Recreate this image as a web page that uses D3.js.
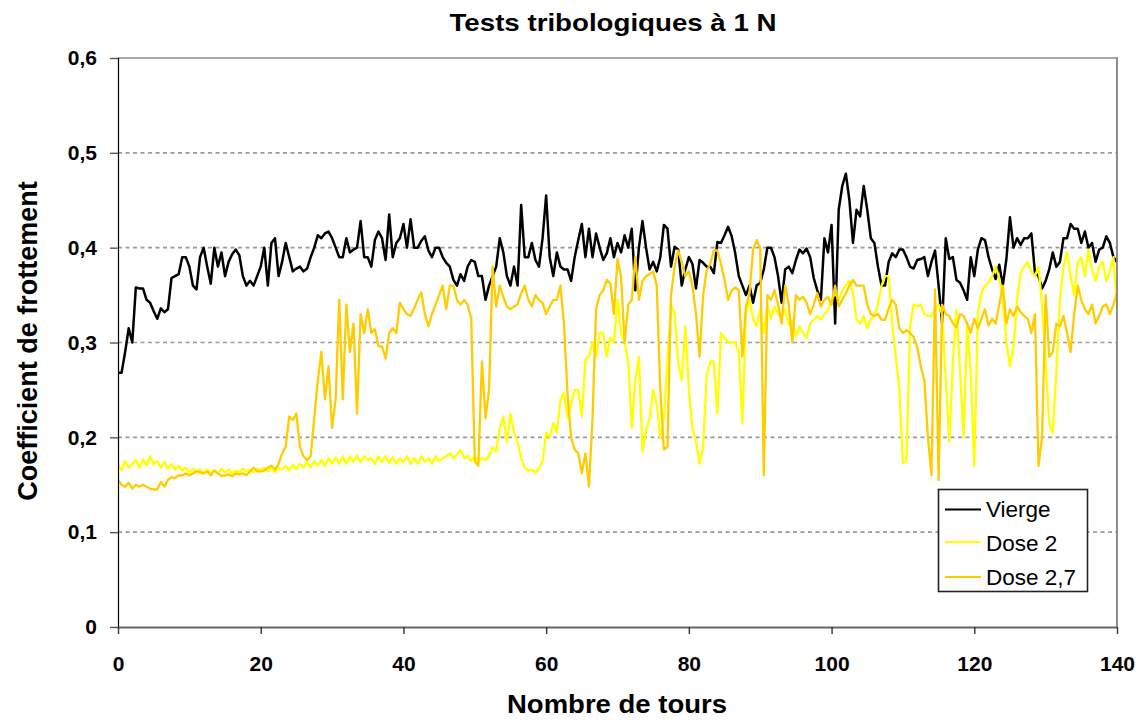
<!DOCTYPE html>
<html>
<head>
<meta charset="utf-8">
<script src="https://cdn.jsdelivr.net/npm/d3@7"></script>
<style>
  html, body { margin: 0; padding: 0; background: #fff; }
  svg { display: block; font-family: "Liberation Sans", Arial, sans-serif; }
</style>
</head>
<body>
<svg id="chart" width="1144" height="720"></svg>
<script>
// Friction coefficient sampled every half turn, from 0 to 140 turns
const tourStep = 0.5;

const vierge = [
  0.268, 0.268, 0.29, 0.315, 0.30, 0.358, 0.357, 0.357, 0.345, 0.342,
  0.333, 0.325, 0.336, 0.332, 0.335, 0.368, 0.37, 0.372, 0.39, 0.39,
  0.38, 0.36, 0.356, 0.39, 0.40, 0.38, 0.362, 0.40, 0.38, 0.395,
  0.37, 0.385, 0.393, 0.398, 0.392, 0.37, 0.36, 0.365, 0.36, 0.37,
  0.38, 0.40, 0.36, 0.405, 0.41, 0.37, 0.385, 0.405, 0.39, 0.375,
  0.378, 0.38, 0.375, 0.378, 0.39, 0.40, 0.413, 0.41, 0.415, 0.417,
  0.41, 0.40, 0.39, 0.39, 0.41, 0.395, 0.398, 0.40, 0.428, 0.39,
  0.39, 0.38, 0.408, 0.417, 0.41, 0.387, 0.435, 0.39, 0.405, 0.41,
  0.425, 0.40, 0.43, 0.40, 0.40, 0.407, 0.412, 0.397, 0.39, 0.40,
  0.40, 0.39, 0.384, 0.38, 0.366, 0.36, 0.372, 0.365, 0.38, 0.387,
  0.385, 0.37, 0.37, 0.345, 0.36, 0.37, 0.38, 0.41, 0.395, 0.37,
  0.36, 0.38, 0.36, 0.445, 0.39, 0.39, 0.405, 0.387, 0.38, 0.41,
  0.455, 0.39, 0.37, 0.395, 0.38, 0.377, 0.377, 0.365, 0.39, 0.408,
  0.425, 0.39, 0.42, 0.39, 0.415, 0.40, 0.387, 0.394, 0.41, 0.39,
  0.405, 0.395, 0.413, 0.40, 0.42, 0.355, 0.40, 0.428, 0.40, 0.377,
  0.385, 0.375, 0.39, 0.424, 0.42, 0.38, 0.401, 0.398, 0.36, 0.377,
  0.39, 0.383, 0.357, 0.387, 0.384, 0.38, 0.38, 0.373, 0.406, 0.405,
  0.413, 0.422, 0.412, 0.394, 0.37, 0.36, 0.35, 0.36, 0.342, 0.36,
  0.363, 0.377, 0.40, 0.40, 0.39, 0.37, 0.342, 0.377, 0.38, 0.373,
  0.387, 0.398, 0.394, 0.399, 0.39, 0.368, 0.355, 0.345, 0.41, 0.395,
  0.424, 0.32, 0.44, 0.465, 0.478, 0.45, 0.405, 0.44, 0.433, 0.465,
  0.44, 0.41, 0.405, 0.38, 0.36, 0.36, 0.385, 0.394, 0.39, 0.398,
  0.398, 0.39, 0.38, 0.378, 0.387, 0.388, 0.39, 0.37, 0.385, 0.397,
  0.36, 0.32, 0.41, 0.388, 0.39, 0.366, 0.363, 0.355, 0.345, 0.39,
  0.37, 0.398, 0.41, 0.408, 0.39, 0.377, 0.367, 0.382, 0.36, 0.388,
  0.432, 0.40, 0.41, 0.403, 0.41, 0.41, 0.415, 0.374, 0.37, 0.357,
  0.365, 0.377, 0.395, 0.38, 0.385, 0.41, 0.41, 0.425, 0.42, 0.42,
  0.405, 0.417, 0.40, 0.405, 0.385, 0.398, 0.40, 0.412, 0.405, 0.39,
  0.385
];

const dose2 = [
  0.172, 0.165, 0.175, 0.168, 0.172, 0.176, 0.168, 0.177, 0.17, 0.18,
  0.172, 0.175, 0.168, 0.174, 0.167, 0.172, 0.166, 0.17, 0.165, 0.168,
  0.163, 0.167, 0.164, 0.166, 0.162, 0.166, 0.163, 0.165, 0.162, 0.167,
  0.163, 0.166, 0.162, 0.165, 0.163, 0.167, 0.164, 0.166, 0.163, 0.167,
  0.165, 0.168, 0.164, 0.169, 0.163, 0.168, 0.166, 0.17, 0.165, 0.171,
  0.167, 0.172, 0.168, 0.174, 0.168, 0.175, 0.17, 0.176, 0.17, 0.178,
  0.172, 0.179, 0.172, 0.18, 0.172, 0.18, 0.174, 0.181, 0.174, 0.18,
  0.176, 0.178, 0.172, 0.18, 0.174, 0.18, 0.173, 0.179, 0.172, 0.178,
  0.174, 0.18, 0.172, 0.178, 0.172, 0.18, 0.174, 0.178, 0.172, 0.18,
  0.175, 0.178, 0.18, 0.183, 0.178, 0.182, 0.187, 0.178, 0.18, 0.175,
  0.18, 0.174, 0.178, 0.176, 0.18, 0.19, 0.185, 0.21, 0.222, 0.195,
  0.225, 0.205, 0.195, 0.178, 0.168, 0.165, 0.166, 0.163, 0.167, 0.175,
  0.205, 0.2, 0.215, 0.205, 0.24, 0.247, 0.22, 0.236, 0.25, 0.25,
  0.222, 0.282, 0.285, 0.30, 0.285, 0.31, 0.31, 0.285, 0.305, 0.30,
  0.345, 0.31, 0.30, 0.28, 0.21, 0.26, 0.285, 0.185, 0.207, 0.22,
  0.25, 0.235, 0.2, 0.22, 0.28, 0.34, 0.33, 0.28, 0.26, 0.317,
  0.25, 0.21, 0.196, 0.172, 0.19, 0.265, 0.28, 0.28, 0.225, 0.31,
  0.305, 0.30, 0.30, 0.30, 0.29, 0.215, 0.33, 0.345, 0.325, 0.317,
  0.335, 0.31, 0.34, 0.325, 0.338, 0.33, 0.327, 0.335, 0.318, 0.324,
  0.306, 0.317, 0.31, 0.305, 0.32, 0.324, 0.328, 0.324, 0.33, 0.334,
  0.345, 0.352, 0.345, 0.355, 0.36, 0.365, 0.352, 0.324, 0.32, 0.328,
  0.315, 0.325, 0.328, 0.34, 0.36, 0.37, 0.37, 0.32, 0.285, 0.25,
  0.173, 0.175, 0.317, 0.34, 0.338, 0.34, 0.33, 0.328, 0.328, 0.335,
  0.34, 0.33, 0.26, 0.195, 0.28, 0.335, 0.27, 0.2, 0.32, 0.27,
  0.17, 0.33, 0.352, 0.36, 0.363, 0.37, 0.38, 0.368, 0.345, 0.30,
  0.275, 0.296, 0.345, 0.374, 0.38, 0.385, 0.375, 0.37, 0.38, 0.34,
  0.28, 0.215, 0.205, 0.27, 0.345, 0.38, 0.395, 0.37, 0.35, 0.385,
  0.39, 0.37, 0.398, 0.377, 0.365, 0.38, 0.385, 0.365, 0.375, 0.39,
  0.34
];

const dose27 = [
  0.155, 0.15, 0.148, 0.152, 0.146, 0.15, 0.148, 0.15, 0.148, 0.146,
  0.145, 0.145, 0.153, 0.148, 0.155, 0.158, 0.157, 0.16, 0.16, 0.162,
  0.16, 0.162, 0.164, 0.163, 0.162, 0.164, 0.16, 0.165, 0.162, 0.159,
  0.16, 0.161, 0.159, 0.162, 0.161, 0.162, 0.16, 0.164, 0.168, 0.164,
  0.164, 0.165, 0.168, 0.17, 0.166, 0.172, 0.183, 0.19, 0.222, 0.218,
  0.225, 0.19, 0.18, 0.176, 0.18, 0.22, 0.26, 0.29, 0.24, 0.275,
  0.21, 0.24, 0.345, 0.24, 0.34, 0.29, 0.32, 0.225, 0.33, 0.31,
  0.335, 0.31, 0.314, 0.296, 0.296, 0.283, 0.31, 0.315, 0.31, 0.342,
  0.335, 0.33, 0.328, 0.336, 0.345, 0.353, 0.33, 0.317, 0.33, 0.34,
  0.35, 0.36, 0.335, 0.36, 0.36, 0.345, 0.34, 0.345, 0.34, 0.325,
  0.175, 0.17, 0.28, 0.22, 0.25, 0.38, 0.338, 0.36, 0.348, 0.338,
  0.335, 0.338, 0.34, 0.352, 0.36, 0.345, 0.338, 0.35, 0.345, 0.342,
  0.33, 0.338, 0.345, 0.345, 0.36, 0.32, 0.245, 0.2, 0.187, 0.183,
  0.162, 0.183, 0.148, 0.22, 0.335, 0.35, 0.355, 0.366, 0.362, 0.33,
  0.388, 0.37, 0.30, 0.34, 0.345, 0.39, 0.345, 0.365, 0.37, 0.372,
  0.375, 0.36, 0.25, 0.187, 0.19, 0.35, 0.38, 0.397, 0.385, 0.37,
  0.375, 0.36, 0.33, 0.285, 0.35, 0.376, 0.383, 0.397, 0.397, 0.383,
  0.366, 0.345, 0.355, 0.358, 0.355, 0.285, 0.338, 0.352, 0.398, 0.408,
  0.40, 0.16, 0.35, 0.345, 0.355, 0.34, 0.32, 0.36, 0.34, 0.30,
  0.35, 0.345, 0.348, 0.342, 0.33, 0.34, 0.352, 0.338, 0.345, 0.348,
  0.34, 0.36, 0.338, 0.345, 0.352, 0.36, 0.366, 0.36, 0.36, 0.36,
  0.34, 0.33, 0.328, 0.33, 0.324, 0.324, 0.336, 0.345, 0.34, 0.315,
  0.31, 0.313, 0.31, 0.306, 0.295, 0.275, 0.26, 0.2, 0.16, 0.356,
  0.155, 0.34, 0.33, 0.328, 0.32, 0.316, 0.33, 0.328, 0.32, 0.31,
  0.325, 0.315, 0.325, 0.335, 0.318, 0.325, 0.32, 0.34, 0.36, 0.32,
  0.335, 0.328, 0.338, 0.332, 0.328, 0.325, 0.31, 0.33, 0.17, 0.2,
  0.35, 0.285, 0.29, 0.32, 0.317, 0.328, 0.31, 0.29, 0.33, 0.36,
  0.345, 0.335, 0.33, 0.34, 0.32, 0.328, 0.338, 0.34, 0.33, 0.34,
  0.352
];

const seriesNames = ["Vierge", "Dose 2", "Dose 2,7"];
const seriesColors = ["#000000", "#FFFF00", "#FFCC00"];
const xTicks = [0, 20, 40, 60, 80, 100, 120, 140];
const yTicks = [0, 0.1, 0.2, 0.3, 0.4, 0.5, 0.6];
const yTickLabels = ["0", "0,1", "0,2", "0,3", "0,4", "0,5", "0,6"];

const chartTitle = "Tests tribologiques à 1 N";
const xTitle = "Nombre de tours";
const yTitle = "Coefficient de frottement";

// Layout
const plot = { left: 118, top: 58, right: 1117, bottom: 627 };

const svg = d3.select("#chart");

const x = d3.scaleLinear().domain([0, 140]).range([plot.left, plot.right]);
const y = d3.scaleLinear().domain([0, 0.6]).range([plot.bottom, plot.top]);

// Horizontal dashed grid
svg.append("g")
  .selectAll("line")
  .data(yTicks.filter(v => v > 0 && v < 0.6))
  .join("line")
  .attr("x1", plot.left).attr("x2", plot.right)
  .attr("y1", d => y(d)).attr("y2", d => y(d))
  .attr("stroke", "#9a9a9a")
  .attr("stroke-width", 1.6)
  .attr("stroke-dasharray", "4,3.5");

// Series lines
const series = [
  { name: seriesNames[0], color: seriesColors[0], values: vierge, width: 2.5 },
  { name: seriesNames[1], color: seriesColors[1], values: dose2, width: 2.3 },
  { name: seriesNames[2], color: seriesColors[2], values: dose27, width: 2.3 }
];

const line = d3.line()
  .x((d, i) => x(i * tourStep))
  .y(d => y(d))
  .curve(d3.curveLinear);

svg.append("clipPath").attr("id", "plotclip")
  .append("rect")
  .attr("x", plot.left).attr("y", plot.top)
  .attr("width", plot.right - plot.left).attr("height", plot.bottom - plot.top);

const lines = svg.append("g")
  .attr("clip-path", "url(#plotclip)");

lines.selectAll("path")
  .data(series)
  .join("path")
  .attr("d", d => line(d.values))
  .attr("fill", "none")
  .attr("stroke", d => d.color)
  .attr("stroke-width", d => d.width)
  .attr("stroke-linejoin", "round")
  .attr("stroke-linecap", "round");

// Plot frame: top and right in grey
svg.append("line")
  .attr("x1", plot.left).attr("x2", plot.right + 1)
  .attr("y1", y(0.6)).attr("y2", y(0.6))
  .attr("stroke", "#a8a8a8").attr("stroke-width", 2.2);
svg.append("line")
  .attr("x1", plot.right).attr("x2", plot.right)
  .attr("y1", plot.top).attr("y2", plot.bottom)
  .attr("stroke", "#808080").attr("stroke-width", 1.8);

// Y axis
const yAxis = svg.append("g")
  .attr("transform", `translate(${plot.left},0)`)
  .call(d3.axisLeft(y)
    .tickValues(yTicks)
    .tickSize(8)
    .tickPadding(13)
    .tickFormat((d, i) => yTickLabels[i]));
yAxis.select(".domain").attr("stroke", "#000").attr("stroke-width", 1.2);
yAxis.selectAll(".tick line").attr("stroke", "#555").attr("stroke-width", 1.4);
yAxis.selectAll(".tick text")
  .attr("font-family", "'Liberation Sans', Arial, sans-serif")
  .attr("font-size", 21).attr("font-weight", "bold").attr("fill", "#000");

// X axis
const xAxis = svg.append("g")
  .attr("transform", `translate(0,${plot.bottom})`)
  .call(d3.axisBottom(x)
    .tickValues(xTicks)
    .tickSize(7)
    .tickSizeOuter(0)
    .tickPadding(22)
    .tickFormat(d3.format("d")));
xAxis.select(".domain").attr("stroke", "#666").attr("stroke-width", 2);
xAxis.selectAll(".tick line").attr("stroke", "#333").attr("stroke-width", 1.4);
xAxis.selectAll(".tick text")
  .attr("font-family", "'Liberation Sans', Arial, sans-serif")
  .attr("font-size", 21).attr("font-weight", "bold").attr("fill", "#000");

// Titles
svg.append("text")
  .attr("x", 613).attr("y", 31)
  .attr("text-anchor", "middle")
  .attr("font-size", 24).attr("font-weight", "bold")
  .attr("textLength", 327).attr("lengthAdjust", "spacingAndGlyphs")
  .text(chartTitle);

svg.append("text")
  .attr("x", 617).attr("y", 713)
  .attr("text-anchor", "middle")
  .attr("font-size", 26).attr("font-weight", "bold")
  .attr("textLength", 220).attr("lengthAdjust", "spacingAndGlyphs")
  .text(xTitle);

svg.append("text")
  .attr("transform", "translate(37,341) rotate(-90)")
  .attr("text-anchor", "middle")
  .attr("font-size", 27).attr("font-weight", "bold")
  .text(yTitle);

// Legend
const legend = svg.append("g");
legend.append("rect")
  .attr("x", 938.5).attr("y", 489.5)
  .attr("width", 149).attr("height", 102)
  .attr("fill", "#fff")
  .attr("stroke", "#222").attr("stroke-width", 1.6);
const legendRows = [509.5, 542, 577];
const legendBase = [517, 551, 584.5];
series.forEach((s, i) => {
  legend.append("line")
    .attr("x1", 945).attr("x2", 981)
    .attr("y1", legendRows[i]).attr("y2", legendRows[i])
    .attr("stroke", s.color).attr("stroke-width", 1.8);
  legend.append("text")
    .attr("x", 986).attr("y", legendBase[i])
    .attr("font-size", 22.5)
    .attr("fill", "#000")
    .text(s.name);
});
</script>
</body>
</html>
